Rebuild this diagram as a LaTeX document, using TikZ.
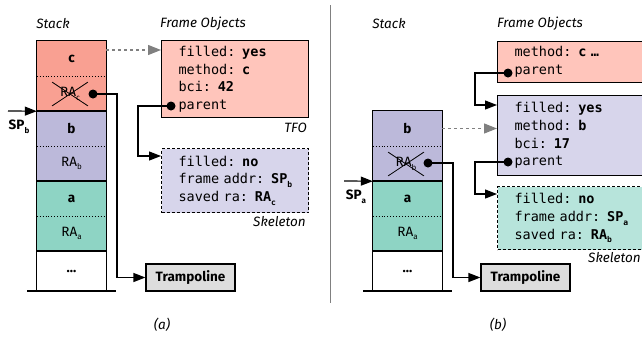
\documentclass[tikz,border=0pt]{standalone}
\usepackage{fontspec}
\setmainfont{Fira Sans}
\setmonofont{DejaVu Sans Mono}
\usepackage{tikz}
\usetikzlibrary{arrows.meta, shapes.misc}

\definecolor{cstack}{RGB}{249,160,146}
\definecolor{cframe}{RGB}{255,197,187}
\definecolor{bstack}{RGB}{188,185,218}
\definecolor{bframe}{RGB}{215,213,235}
\definecolor{astack}{RGB}{142,212,196}
\definecolor{aframe}{RGB}{183,228,219}
\definecolor{trampgray}{RGB}{221,221,221}

\newcommand{\lowsub}[1]{\raisebox{-0.5ex}{\footnotesize #1}}

\begin{document}
\begin{tikzpicture}[x=1pt, y=-1pt,
    cell/.style = {minimum width=69pt, minimum height=35pt, inner sep=0pt, font=\fontsize{13.5}{15}\selectfont},
    frame/.style = {draw, line width=1.2pt},
    sep/.style = {line width=0.9pt, dotted},
    crossed/.style = {cross out, draw, line width=0.8pt, minimum width=35pt, minimum height=23pt, inner sep=0pt, font=\fontsize{13.5}{15}\selectfont},
    fobj/.style = {draw, line width=1.2pt, anchor=north west, text width=113pt, inner xsep=17pt, inner ysep=0pt, align=left, font=\ttfamily\fontsize{13.5}{17.7}\selectfont},
    skel/.style = {fobj, dash pattern=on 3pt off 2pt},
    tramp/.style = {draw, line width=1.2pt, fill=trampgray, minimum width=89pt, minimum height=27pt, inner sep=0pt, font=\bfseries\fontsize{13.5}{15}\selectfont},
    lbl/.style = {font=\itshape\fontsize{13.5}{15}\selectfont, inner sep=0pt},
    sp/.style = {font=\bfseries\fontsize{13.5}{15}\selectfont, inner sep=0pt},
    link/.style = {line width=1.2pt, -{Triangle[length=12pt, width=9pt]}},
    ghost/.style = {line width=1.2pt, gray, dashed, -{Triangle[length=13pt, width=10pt]}},
    dot/.style = {fill=black}]
    \useasboundingbox (0, 0) rectangle (642, 341);

    \node[lbl] at (53, 24) (stackA) {Stack};
    \node[lbl, anchor=west] at (160, 24) (objA) {Frame Objects};

    \node[cell, fill=cstack] at (71.5, 58.5) (c) {\textbf{c}};
    \node[cell, fill=cstack] at (71.5, 93.5) (rac) {};
    \node[cell, fill=bstack] at (71.5, 128.5) (b) {\textbf{b}};
    \node[cell, fill=bstack] at (71.5, 163.5) (rab) {RA\lowsub{b}};
    \node[cell, fill=astack] at (71.5, 198.5) (a) {\textbf{a}};
    \node[cell, fill=astack] at (71.5, 233.5) (raa) {RA\lowsub{a}};
    \node[cell, minimum height=40pt] at (71.5, 271) (rest) {\textbf{...}};
    \node[crossed] at (70, 94) (racx) {RA\lowsub{c}};

    \draw[frame] (c.north west) rectangle (rac.south east);
    \draw[frame] (b.north west) rectangle (rab.south east);
    \draw[frame] (a.north west) rectangle (raa.south east);
    \draw[frame] (rest.south west) -- (rest.north west) -- (rest.north east) -- (rest.south east);
    \draw[frame] (27, 291) -- (116, 291);
    \draw[sep] (c.south west) -- (c.south east);
    \draw[sep] (b.south west) -- (b.south east);
    \draw[sep] (a.south west) -- (a.south east);

    \node[fobj, fill=cframe, minimum height=77pt] at (161, 40) (tfoA) {filled: \textbf{yes}\\method: \textbf{c}\\bci: \textbf{42}\\parent};
    \node[skel, fill=bframe, minimum height=64pt] at (161, 148) (skelA) {filled: \textbf{no}\\\mbox{frame addr: \textbf{SP\lowsub{b}}}\\\mbox{saved ra: \textbf{RA\lowsub{c}}}};
    \node[lbl, anchor=east] at (307, 128) (tfoAlbl) {TFO};
    \node[lbl, anchor=east] at (306, 222) (skelAlbl) {Skeleton};
    \node[tramp] at (190.5, 277.5) (trA) {Trampoline};

    \coordinate (spA) at (8, 111);
    \node[sp] at (19, 127) (spAlbl) {SP\lowsub{b}};
    \coordinate (racdot) at (93, 94);
    \coordinate (parA) at (171, 106);

    \draw[ghost] ([yshift=8.5pt]c.east) coordinate (cA) -- (tfoA.west |- cA);
    \draw[link] (spA) -- (rac.south west);
    \draw[link] (racdot) -- ++(24, 0) |- (trA.west);
    \draw[link] (parA) -- ++(-33, 0) |- ([yshift=-8pt]skelA.north west);
    \fill[dot] (racdot) circle (4.5);
    \fill[dot] (parA) circle (4.5);

    \node[lbl] at (162, 325) (capA) {(a)};

    \draw[gray, line width=0.9pt] (330, 5) -- (330, 303);

    \node[lbl] at (389, 24) (stackB) {Stack};
    \node[lbl, anchor=west] at (497, 24) (objB) {Frame Objects};

    \node[cell, fill=bstack] at (407.5, 128.5) (bb) {\textbf{b}};
    \node[cell, fill=bstack] at (407.5, 163.5) (rabb) {};
    \node[cell, fill=astack] at (407.5, 198.5) (ab) {\textbf{a}};
    \node[cell, fill=astack] at (407.5, 233.5) (raab) {RA\lowsub{a}};
    \node[cell, minimum height=40pt] at (407.5, 271) (restb) {\textbf{...}};
    \node[crossed] at (406, 164) (rabx) {RA\lowsub{b}};

    \draw[frame] (bb.north west) rectangle (rabb.south east);
    \draw[frame] (ab.north west) rectangle (raab.south east);
    \draw[frame] (restb.south west) -- (restb.north west) -- (restb.north east) -- (restb.south east);
    \draw[frame] (363, 291) -- (452, 291);
    \draw[sep] (bb.south west) -- (bb.south east);
    \draw[sep] (ab.south west) -- (ab.south east);

    \node[fobj, fill=cframe, minimum height=41pt] at (497, 41) (tfoC) {method: \textbf{c …}\\parent};
    \node[fobj, fill=bframe, minimum height=80pt] at (497, 95) (tfoB) {filled: \textbf{yes}\\method: \textbf{b}\\bci: \textbf{17}\\parent};
    \node[skel, fill=aframe, minimum height=63pt] at (497, 186) (skelB) {filled: \textbf{no}\\\mbox{frame addr: \textbf{SP\lowsub{a}}}\\\mbox{saved ra: \textbf{RA\lowsub{b}}}};
    \node[lbl, anchor=east] at (641, 258) (skelBlbl) {Skeleton};
    \node[tramp] at (525.5, 277.5) (trB) {Trampoline};

    \coordinate (spB) at (344, 181);
    \node[sp] at (356, 197) (spBlbl) {SP\lowsub{a}};
    \coordinate (rabdot) at (428, 163);
    \coordinate (parC) at (508, 73);
    \coordinate (parB) at (508, 162);

    \draw[ghost] (bb.east) coordinate (bB) -- (tfoB.west |- bB);
    \draw[link] (spB) -- (rabb.south west);
    \draw[link] (rabdot) -- ++(25, 0) |- (trB.west);
    \draw[link] (parC) -- ++(-33, 0) |- ([yshift=-10pt]tfoB.north west);
    \draw[link] (parB) -- ++(-33, 0) |- ([yshift=-8pt]skelB.north west);
    \fill[dot] (rabdot) circle (4.5);
    \fill[dot] (parC) circle (4.5);
    \fill[dot] (parB) circle (4.5);

    \node[lbl] at (498, 325) (capB) {(b)};
\end{tikzpicture}
\end{document}
